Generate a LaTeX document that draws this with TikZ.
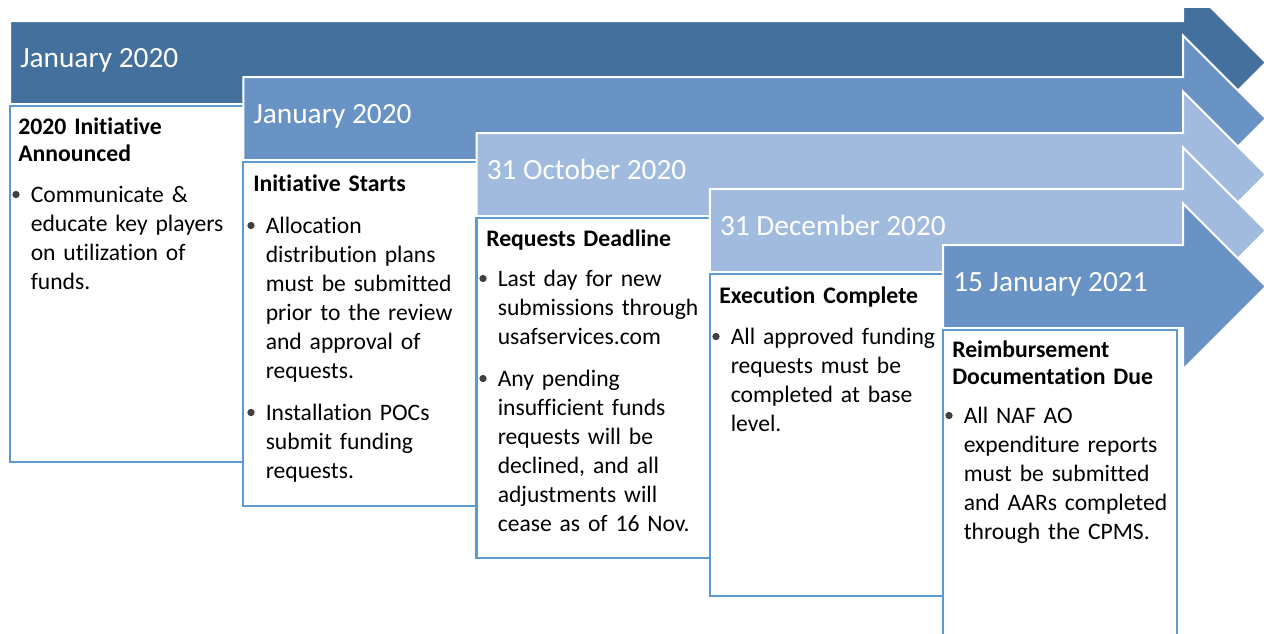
\documentclass[tikz,border=0pt]{standalone}
\usepackage{fontspec}
\setmainfont{Carlito}[Ligatures=NoCommon]
\definecolor{darkblue}{HTML}{44709D}
\definecolor{midblue}{HTML}{6893C4}
\definecolor{lightblue}{HTML}{A0BBDE}
\definecolor{edgeblue}{HTML}{5B9BD5}
\tikzset{
  stagearrow/.style={draw=white, line width=1.5pt},
  stagebox/.style={draw=edgeblue, fill=white, line width=1.7pt},
  datetext/.style={
    anchor=base west, inner sep=0pt, text=white,
    font=\fontsize{22}{26}\selectfont
  },
  headtext/.style={
    anchor=base west, inner sep=0pt, text width=180pt, align=left,
    font=\bfseries\fontsize{17.8}{20.25}\selectfont
  },
  itemtext/.style={
    anchor=base west, inner sep=0pt, text width=180pt, align=left,
    font=\fontsize{17.7}{21.75}\selectfont
  },
  dot/.style={
    circle, fill=black!75, minimum width=5.5pt,
    inner sep=0pt
  }
}

\begin{document}
\begin{tikzpicture}[x=0.75pt,y=-0.75pt]
  \useasboundingbox (0,0) rectangle (1270,633);
  \clip (0,8) rectangle (1270,633);
  % one arrow and one box per stage, each one step lower and to the right
  \foreach \col/\yend/\when [count=\i from 0,
      evaluate=\i as \xl using 10+233.25*\i,
      evaluate=\i as \yt using 21+56*\i] in
      {darkblue/462/January 2020, midblue/506/January 2020,
       lightblue/558/31 October 2020, lightblue/596/31 December 2020,
       midblue/660/15 January 2021} {
    \filldraw [stagearrow, fill=\col] (\xl,\yt) -- (1183,\yt) -- (1183,\yt-41.5)
      -- (1266,\yt+41.5) -- (1183,\yt+124.5) -- (1183,\yt+83) -- (\xl,\yt+83) -- cycle;
    \draw [stagebox] (\xl,\yt+85) rectangle (\xl+234,\yend);
    \node [datetext] (date\i) at (\xl+10,\yt+46) {\when};
  }

  % stage texts
  \node [headtext] (head1) at (18,134) {2020 Initiative\\Announced};
  \node [dot] (dot1) at (16,194.5) {};
  \node [itemtext] (item1) at (30.5,202)
    {Communicate \&\\educate key players\\on utilization of\\funds.};

  \node [headtext] (head2) at (253,191) {Initiative Starts};
  \node [dot] (dot2a) at (251,225.5) {};
  \node [itemtext] (item2a) at (265.5,233)
    {Allocation\\distribution plans\\must be submitted\\prior to the review\\and approval of\\requests.};
  \node [dot] (dot2b) at (251,412.5) {};
  \node [itemtext] (item2b) at (265.5,420)
    {Installation POCs\\submit funding\\requests.};

  \node [headtext] (head3) at (486,246) {Requests Deadline};
  \node [dot] (dot3a) at (483,278.5) {};
  \node [itemtext] (item3a) at (497.5,286)
    {Last day for new\\submissions through\\usafservices.com};
  \node [dot] (dot3b) at (483,378.5) {};
  \node [itemtext] (item3b) at (497.5,386)
    {Any pending\\insufficient funds\\requests will be\\declined, and all\\adjustments will\\cease as of 16 Nov.};

  \node [headtext] (head4) at (719,303) {Execution Complete};
  \node [dot] (dot4) at (716,336.5) {};
  \node [itemtext] (item4) at (730.5,344)
    {All approved funding\\requests must be\\completed at base\\level.};

  \node [headtext] (head5) at (952,357) {Reimbursement\\Documentation Due};
  \node [dot] (dot5) at (949,415.5) {};
  \node [itemtext] (item5) at (963.5,423)
    {All NAF AO\\expenditure reports\\must be submitted\\and AARs completed\\through the CPMS.};
\end{tikzpicture}
\end{document}
